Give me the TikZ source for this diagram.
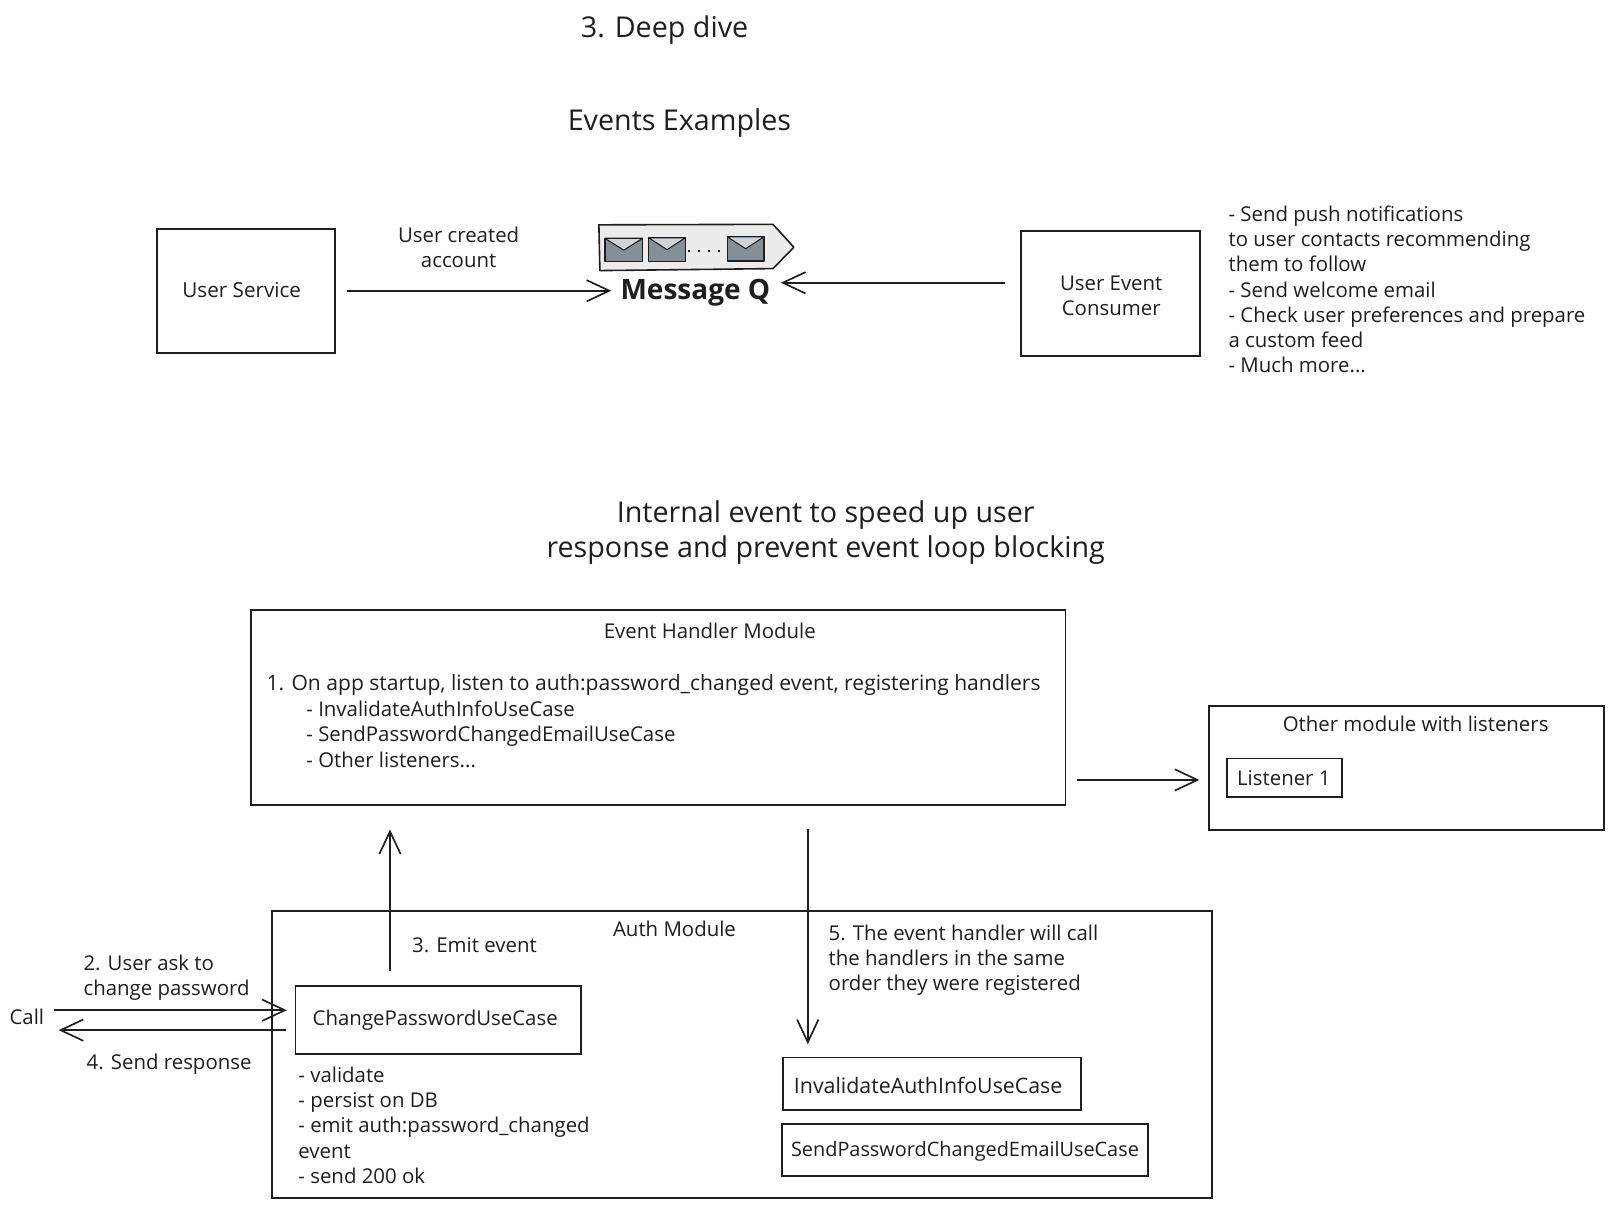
\documentclass[tikz,border=0pt]{standalone}
\usepackage{fontspec}
\setmainfont{Open Sans}
\usetikzlibrary{arrows.meta,calc}
\definecolor{ink}{HTML}{1E1E1E}
\definecolor{qfill}{HTML}{ECECEC}
\definecolor{envbody}{HTML}{868E96}
\definecolor{envflap}{HTML}{CED4DA}
\tikzset{
  boxn/.style={draw=ink,line width=1.4pt,inner sep=0pt,outer sep=0pt},
  txt/.style={text=ink,inner sep=0pt,outer sep=0pt,font=\fontsize{15.3}{18.9}\selectfont},
  lst/.style={txt,align=left,anchor=west},
  ctr/.style={txt,align=center},
  title/.style={text=ink,inner sep=0pt,outer sep=0pt,align=center,font=\fontsize{21.5}{26}\selectfont},
  conn/.style={draw=ink,line width=1.25pt,-{Straight Barb[length=17pt,width=16pt,line width=1.25pt]}},
  env/.style={draw=ink,line width=1pt,fill=envbody,line join=round},
  flap/.style={draw=ink,line width=.8pt,fill=envflap,line join=round}
}
\newcommand{\bx}[5]{\node[boxn,minimum width={(#4-#2)*0.7461pt},minimum height={(#5-#3)*0.7461pt}] (#1) at ({(#2+#4)/2},{(#3+#5)/2}) {};}
\newcommand{\envl}[4]{%
  \draw[env] (#1,#3) rectangle (#2,#4);
  \draw[flap] (#1,#3) -- (#2,#3) -- ({(#1+#2)/2},{#3+12}) -- cycle;}
\begin{document}
\begin{tikzpicture}[x=0.7461pt,y=-0.7461pt]
\useasboundingbox (0,0) rectangle (1621.4,1214.3);
% titles
\node[title] (t1) at (668,30) {3. Deep dive};
\node[title] (t2) at (683,124) {Events Examples};
\node[title] (t3) at (830,535) {Internal event to speed up user\\response and prevent event loop blocking};
% top row
\bx{usvc}{158}{230}{337}{354.5}
\node[ctr,font=\fontsize{15.5}{18.9}\selectfont] (usvct) at (243,292) {User Service};
\bx{cons}{1026}{232.5}{1206}{358}
\node[ctr] (const) at (1117,297.5) {User Event\\Consumer};
\node[ctr] (ucreated) at (461,249) {User created\\account};
\node[lst] (notes) at (1235,291) {- Send push notifications\\to user contacts recommending\\them to follow\\- Send welcome email\\- Check user preferences and prepare\\a custom feed\\- Much more...};
% queue
\draw[draw=ink,line width=1.2pt,fill=qfill,line join=round] (602,226) -- (777,225.5) -- (798,248.5) -- (777,270) -- (603,272) -- cycle;
\envl{608}{646}{239.5}{263}
\envl{652}{689}{239}{263}
\envl{731}{768}{238}{262.5}
\draw[ink,line width=1.2pt,dash pattern=on 1.5pt off 6pt] (692,252) -- (730,252);
\node[title,font=\fontsize{21}{26}\selectfont\bfseries] (mq) at (699,294) {Message Q};
\draw[conn,shorten <=9pt,shorten >=7pt] (usvc.east) -- (usvc.east -| mq.west);
\draw[conn,shorten <=12pt,shorten >=8pt] ($(cons.west)+(0,-11)$) -- ($(cons.west -| mq.east)+(0,-11)$);
% handler
\bx{handler}{252}{613}{1071}{809}
\node[ctr] (handlert) at (713.5,634) {Event Handler Module};
\node[lst,font=\fontsize{15.8}{18.9}\selectfont] (handl1) at (268,689) {1. On app startup, listen to auth:password\_changed event, registering handlers};
\node[lst] (handl2) at (308,738) {- InvalidateAuthInfoUseCase\\- SendPasswordChangedEmailUseCase\\- Other listeners...};
% other module
\bx{other}{1215}{709.5}{1612}{834.5}
\node[ctr] (othert) at (1423,728) {Other module with listeners};
\bx{listener}{1233.5}{762.5}{1349}{801.5}
\node[ctr] (listenert) at (1290.5,782) {Listener 1};
\draw[conn,shorten <=9pt,shorten >=7pt] ($(handler.east)+(0,73)$) -- ($(other.west)+(0,12)$);
% auth
\bx{auth}{273}{916}{1218}{1204}
\node[ctr] (autht) at (678,934) {Auth Module};
\node[ctr] (emit) at (477,950) {3. Emit event};
\node[lst] (five) at (833,965) {5. The event handler will call\\the handlers in the same\\order they were registered};
\bx{chg}{297}{991}{584}{1059.5}
\node[ctr] (chgt) at (437.5,1026) {ChangePasswordUseCase};
\node[lst] (chgl) at (300,1131) {- validate\\- persist on DB\\- emit auth:password\_changed\\event\\- send 200 ok};
\bx{inv}{787}{1063}{1087}{1116}
\node[ctr,font=\fontsize{16}{18.9}\selectfont] (invt) at (933,1091) {InvalidateAuthInfoUseCase};
\bx{sendb}{786}{1129.5}{1154}{1182.5}
\node[ctr,font=\fontsize{14.9}{18.9}\selectfont] (sendt) at (970,1157) {SendPasswordChangedEmailUseCase};
% left side
\node[ctr] (call) at (27,1022) {Call};
\node[lst] (ask) at (84,983) {2. User ask to\\change password};
\node[ctr] (resp) at (170,1070) {4. Send response};
% connectors
\coordinate (upx) at (392,974);
\coordinate (downx) at (812,834);
\draw[conn,shorten <=11pt,shorten >=18.5pt] (chg.north -| upx) -- (handler.south -| upx);
\draw[conn,shorten <=18.5pt,shorten >=10pt] (handler.south -| downx) -- (inv.north -| downx);
\coordinate (callin) at (54,1015.5);
\coordinate (callout) at (59,1035.5);
\draw[conn,shorten >=6.5pt] (callin) -- (callin -| chg.west);
\draw[conn,shorten <=7pt] (callout -| chg.west) -- (callout);
\end{tikzpicture}
\end{document}
